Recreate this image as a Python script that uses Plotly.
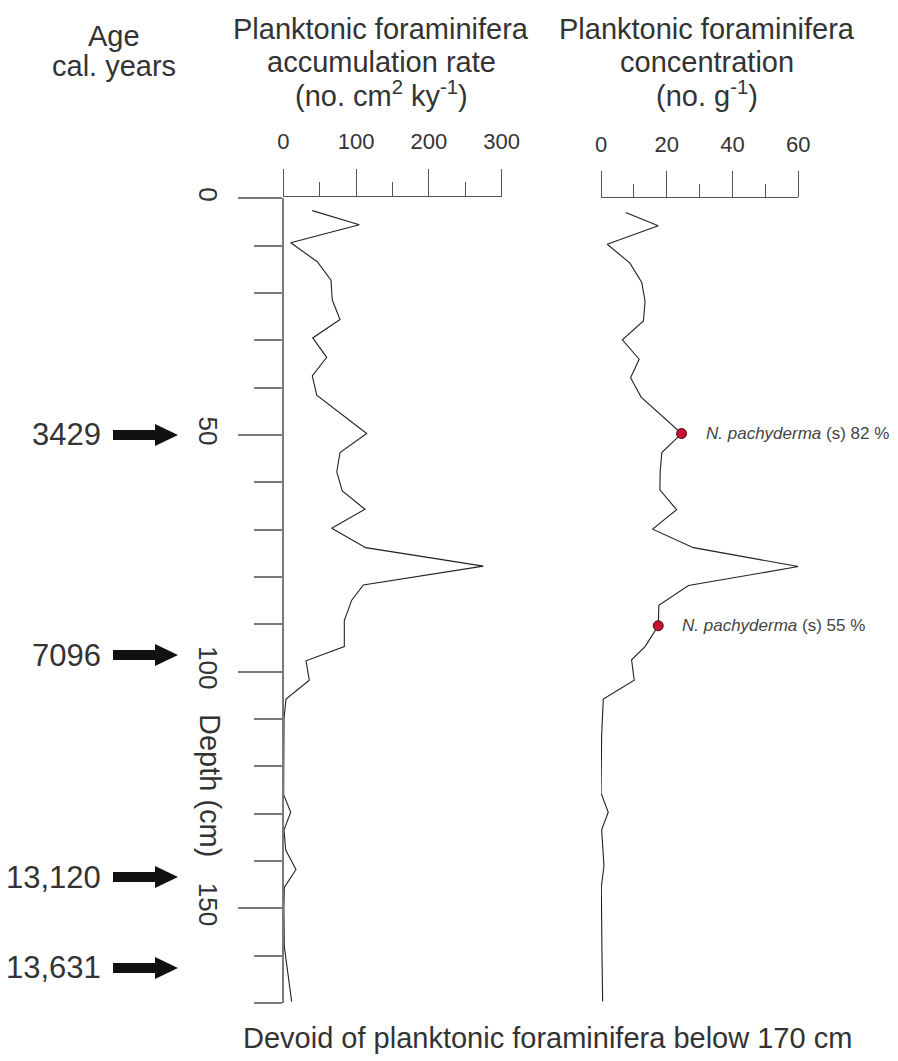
import plotly.graph_objects as go

# ---------------- data ----------------
acc_depth = [2.6, 5.6, 9.4, 13.4, 17.3, 21.5, 25.6, 29.5, 33.6, 37.5, 41.6, 49.7, 53.7, 57.8,
             61.8, 65.7, 69.7, 73.8, 77.7, 81.7, 84.9, 89.2, 94.7, 97.7, 101.8, 105.8, 109.9,
             114.0, 118.0, 122.0, 126.0, 129.7, 133.4, 137.7, 141.8, 145.6, 150.0, 158.1, 169.7]
acc_rate = [39.8, 104.4, 10.2, 46.7, 65.5, 67.3, 77.9, 40.4, 59.6, 39.8, 45.9, 114.6, 77.9, 73.4,
            81.0, 112.2, 66.5, 113.2, 274.7, 109.9, 94.0, 83.8, 83.8, 31.2, 35.7, 3.7, 1.0,
            0.8, 0.6, 0.5, 0.5, 10.2, 1.0, 3.3, 17.4, 1.4, 0.8, 1.4, 11.5]

conc_depth = [3.0, 5.8, 9.7, 13.7, 17.8, 21.8, 25.9, 29.9, 34.0, 37.9, 42.0, 49.7, 53.7, 57.7,
              61.6, 65.8, 69.9, 73.8, 77.8, 81.8, 86.0, 90.3, 94.7, 97.5, 101.8, 105.8, 113.4,
              121.8, 125.6, 129.7, 133.4, 141.0, 145.5, 160.0, 169.7]
conc_val = [7.5, 17.4, 1.9, 8.8, 12.4, 13.4, 12.9, 6.5, 11.6, 9.0, 12.2, 24.5, 18.5, 18.0,
            17.9, 23.0, 15.7, 28.1, 60.0, 26.6, 17.6, 17.4, 13.4, 9.3, 10.1, 0.7, 0.2,
            0.1, 0.0, 2.2, 0.2, 0.9, 0.1, 0.3, 0.5]

pachy_depth = [49.7, 90.3]
pachy_conc = [24.5, 17.4]
pachy_pct = ["82 %", "55 %"]

age_labels = ["3429", "7096", "13,120", "13,631"]
age_depth = [50.0, 96.5, 143.4, 162.6]

acc_ticks = [0, 100, 200, 300]
acc_minor = [50, 150, 250]
conc_ticks = [0, 20, 40, 60]
conc_minor = [10, 30, 50]
depth_ticks = [0, 50, 100, 150]

# ---------------- layout helpers ----------------
W, H = 898, 1061
def px(x):
    return x / W
def py(y):
    return 1 - y / H

FONT = "Liberation Sans, Arial, sans-serif"
TXT = "#333333"
AX = "#7a7a7a"
TOPAX = "#555555"

fig = go.Figure()
fig.add_trace(go.Scatter(x=acc_rate, y=acc_depth, mode="lines", xaxis="x", yaxis="y",
                         line=dict(color="#222222", width=1.1), showlegend=False))
fig.add_trace(go.Scatter(x=conc_val, y=conc_depth, mode="lines", xaxis="x2", yaxis="y",
                         line=dict(color="#222222", width=1.1), showlegend=False))
fig.add_trace(go.Scatter(x=pachy_conc, y=pachy_depth, mode="markers", xaxis="x2", yaxis="y",
                         marker=dict(size=10, color="#c8102e", line=dict(color="#4a0a14", width=1)),
                         showlegend=False))

top_common = dict(side="top", anchor="free", showgrid=False, zeroline=False, showline=True,
                  automargin=False,
                  linecolor=TOPAX, linewidth=1, ticks="outside", tickwidth=1, tickcolor=TOPAX,
                  tickmode="array", tickfont=dict(size=22, color=TXT, family=FONT),
                  ticklabelstandoff=11)

fig.update_layout(
    width=W, height=H, margin=dict(l=0, r=0, t=0, b=0, autoexpand=False),
    paper_bgcolor="white", plot_bgcolor="white",
    font=dict(family=FONT, color=TXT),
    xaxis=dict(domain=[px(283.3), px(501.7)], range=[0, 300], position=py(195.7),
               tickvals=acc_ticks, ticklen=27,
               minor=dict(tickmode="array", tickvals=acc_minor, ticklen=14, tickwidth=1,
                          tickcolor=TOPAX, ticks="outside"),
               **top_common),
    xaxis2=dict(domain=[px(601), px(798.3)], range=[0, 60], position=py(197.3),
                tickvals=conc_ticks, ticklen=26,
                minor=dict(tickmode="array", tickvals=conc_minor, ticklen=13, tickwidth=1,
                           tickcolor=TOPAX, ticks="outside"),
                **top_common),
    yaxis=dict(domain=[py(1003), py(198.3)], range=[170, 0], anchor="free", position=px(283.3),
               automargin=False,
               showgrid=False, zeroline=False, showline=True, linecolor=AX, linewidth=2,
               ticks="outside", tickmode="array", tickvals=depth_ticks, ticklen=44,
               tickwidth=2, tickcolor=AX, tickangle=90,
               tickfont=dict(size=26, color=TXT, family=FONT), ticklabelstandoff=8,
               minor=dict(dtick=10, tick0=0, ticklen=28, tickwidth=2, tickcolor=AX,
                          ticks="outside")),
)

ann = []
def text(x, y, s, size=29, xanchor="center", yanchor="middle", color=TXT, angle=0):
    ann.append(dict(x=px(x), y=py(y), xref="paper", yref="paper", text=s, showarrow=False,
                    xanchor=xanchor, yanchor=yanchor, textangle=angle,
                    font=dict(size=size, color=color, family=FONT)))

# headers
text(114, 36, "Age")
text(114, 66, "cal. years")
text(381, 29, "Planktonic foraminifera")
text(381, 62, "accumulation rate")
text(381, 94, "(no. cm<sup>2</sup> ky<sup>-1</sup>)")
text(707, 29, "Planktonic foraminifera")
text(707, 62, "concentration")
text(707, 94, "(no. g<sup>-1</sup>)")
text(210, 785, "Depth (cm)", angle=90)
text(547, 1038, "Devoid of planktonic foraminifera below 170 cm")

# N. pachyderma annotations
for d, v, p in zip(pachy_depth, pachy_conc, pachy_pct):
    ann.append(dict(x=v, y=d, xref="x2", yref="y", text="<i>N. pachyderma</i> (s) " + p,
                    showarrow=False, xanchor="left", yanchor="middle", xshift=22,
                    font=dict(size=17, color="#444444", family=FONT)))

# age labels + arrows
shapes = []
for lab, d in zip(age_labels, age_depth):
    ann.append(dict(x=px(103), y=d, xref="paper", yref="y", text=lab, showarrow=False,
                    xanchor="right", yanchor="middle",
                    font=dict(size=31, color=TXT, family=FONT)))
    shapes.append(dict(type="path", xref="paper", yref="y",
                       xsizemode="pixel", ysizemode="pixel", xanchor=px(178), yanchor=d,
                       path="M -65,-5 L -23,-5 L -23,-11 L 0,0 L -23,11 L -23,5 L -65,5 Z",
                       fillcolor="#111111", line=dict(width=0)))

fig.update_layout(annotations=ann, shapes=shapes)
fig.write_html("out.html", config={"displayModeBar": False},
               post_script="document.body.style.margin='0';document.body.style.overflow='hidden';")
